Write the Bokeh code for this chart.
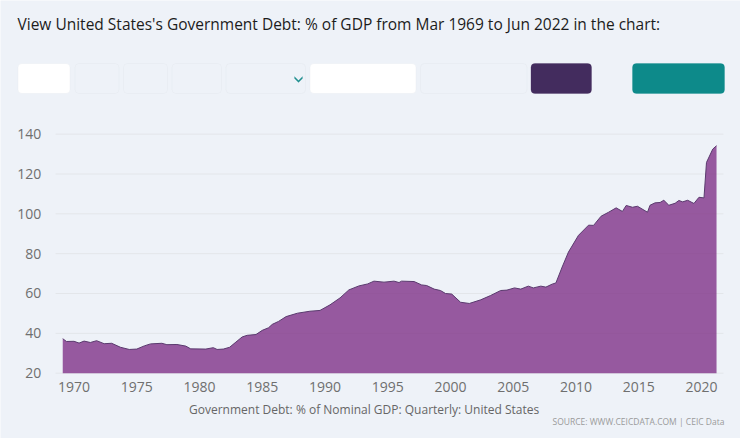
#!/usr/bin/env python3
from bokeh.embed import file_html
from bokeh.models import BoxAnnotation, FixedTicker, Label, Legend, LegendItem, PolyAnnotation, Range1d
from bokeh.plotting import figure
from bokeh.resources import INLINE

# values
years = [1969.1, 1969.4, 1970.0, 1970.4, 1970.8, 1971.3, 1971.8, 1972.4, 1973.0, 1973.7,
         1974.4, 1975.0, 1975.6, 1976.1, 1977.0, 1977.4, 1978.2, 1978.9, 1979.3, 1980.5,
         1981.1, 1981.4, 1981.9, 1982.4, 1982.9, 1983.4, 1983.8, 1984.5, 1985.0, 1985.5,
         1985.8, 1986.3, 1986.9, 1987.8, 1988.8, 1989.6, 1990.4, 1991.2, 1991.9, 1992.7,
         1993.4, 1993.9, 1994.7, 1995.5, 1995.9, 1996.1, 1997.1, 1997.7, 1998.1, 1998.7,
         1999.2, 1999.6, 2000.1, 2000.8, 2001.5, 2002.4, 2003.2, 2004.0, 2004.5, 2005.1,
         2005.6, 2006.2, 2006.6, 2007.2, 2007.6, 2008.1, 2008.4, 2008.9, 2009.4, 2010.2,
         2011.0, 2011.4, 2012.0, 2012.6, 2013.2, 2013.7, 2014.0, 2014.5, 2014.9, 2015.7,
         2015.9, 2016.3, 2016.7, 2017.0, 2017.4, 2017.9, 2018.2, 2018.5, 2018.9, 2019.4,
         2019.8, 2020.2, 2020.4, 2020.9, 2021.2]
debt = [37.3, 35.9, 36.0, 35.1, 36.1, 35.4, 36.3, 34.8, 35.0, 33.0,
        31.9, 32.1, 33.7, 34.7, 35.0, 34.3, 34.4, 33.6, 32.2, 32.1,
        32.8, 31.9, 32.1, 33.0, 35.6, 38.2, 39.0, 39.4, 41.5, 42.8,
        44.5, 46.0, 48.4, 50.1, 51.1, 51.5, 54.3, 57.8, 61.8, 63.8,
        64.8, 66.2, 65.7, 66.2, 65.5, 66.2, 66.0, 64.3, 64.0, 62.2,
        61.5, 60.0, 59.7, 55.6, 55.0, 56.8, 59.0, 61.5, 61.7, 62.8,
        62.2, 63.7, 62.8, 63.7, 63.2, 64.7, 65.3, 73.3, 80.8, 89.2,
        94.3, 94.2, 98.8, 100.8, 103.0, 101.2, 104.2, 103.3, 103.8, 100.8,
        104.3, 105.5, 105.7, 106.8, 104.3, 105.3, 106.7, 106.0, 106.8, 105.2,
        108.3, 108.0, 125.8, 132.5, 134.2]
x_ticks = [1970, 1975, 1980, 1985, 1990, 1995, 2000, 2005, 2010, 2015, 2020]
y_ticks = [20, 40, 60, 80, 100, 120, 140]

title_text = "View United States's Government Debt: % of GDP from Mar 1969 to Jun 2022 in the chart:"
series_name = "Government Debt: % of Nominal GDP: Quarterly: United States"
source_text = "SOURCE: WWW.CEICDATA.COM | CEIC Data"

BG = "#eef2f8"
FONT = "Open Sans"

# the frame fills the whole canvas so the controls above the chart are not clipped
p = figure(width=740, height=438, output_backend="svg", toolbar_location=None,
           x_range=Range1d(1964.14, 2023.11), y_range=Range1d(-12.8, 207.1),
           min_border=0, background_fill_color=BG, border_fill_color=BG, outline_line_color=None)

p.xaxis.ticker = FixedTicker(ticks=x_ticks)
p.yaxis.ticker = FixedTicker(ticks=y_ticks)
p.xaxis.fixed_location = 20
p.yaxis.fixed_location = 1968.5
for ax in (p.xaxis[0], p.yaxis[0]):
    ax.axis_line_color = None
    ax.major_tick_line_color = None
    ax.minor_tick_line_color = None
    ax.major_label_text_color = "#6f6f6f"
    ax.major_label_text_font = FONT
    ax.major_label_text_font_size = "14px"
p.xaxis.major_label_standoff = 3
p.yaxis.major_label_standoff = 8

p.xgrid.visible = False
p.ygrid.visible = False
p.segment(x0=[1968.53] * len(y_ticks), x1=[2021.75] * len(y_ticks), y0=y_ticks, y1=y_ticks,
          line_color="#e3e6ea", line_width=1)

p.varea(x=years, y1=[20] * len(years), y2=debt, fill_color="#7d2e85", fill_alpha=0.78)
p.line(years, debt, line_color="#5a3a6e", line_width=1)

swatch = p.varea(x=[], y1=[], y2=[], fill_color="#7d2e85")
legend = Legend(items=[LegendItem(label=series_name, renderers=[swatch])],
                location=(172, 20), orientation="horizontal", padding=0, margin=0,
                glyph_width=15, glyph_height=9, label_standoff=2,
                background_fill_alpha=0, border_line_color=None,
                label_text_font=FONT, label_text_font_size="12px", label_text_color="#666666")
p.add_layout(legend, "center")


def text(s, x, y, size, color, style="normal", align="left"):
    p.add_layout(Label(x=x, y=y, x_units="canvas", y_units="canvas", text=s,
                       text_font=FONT, text_font_size=size, text_color=color, text_font_style=style,
                       text_align=align, text_baseline="middle"))


def button(s, left, right, fill, border, color, style="normal"):
    p.add_layout(BoxAnnotation(left=left, right=right, top=63, bottom=93,
                               left_units="canvas", right_units="canvas",
                               top_units="canvas", bottom_units="canvas",
                               fill_color=fill, fill_alpha=1, line_color=border, line_width=1,
                               border_radius=4, level="overlay"))
    if s:
        text(s, (left + right) / 2, 79, "11px", color, style, "center")


text(title_text, 17, 23, "15.5px", "#1c1c1c", "normal")

button("max", 17.5, 69.5, "#ffffff", "#e2e6ec", "#777777")
button("1y", 74.5, 118.5, BG, "#dde2e9", "#777777")
button("5y", 123, 167, BG, "#dde2e9", "#777777")
button("10y", 171.5, 221, BG, "#dde2e9", "#777777")
button("", 225.5, 305, BG, "#dde2e9", "#777777")
text("area", 237, 79, "11px", "#2e8b8b")
button("September 1, 2019", 309.5, 415.5, "#ffffff", "#e2e6ec", "#777777")
button("June 1, 2022", 420, 526.5, BG, "#dde2e9", "#777777")
button("Apply", 530.5, 591, "#432c5e", "#432c5e", "#ffffff", "bold")
button("Get this data", 632, 724, "#0d8a8a", "#0d8a8a", "#ffffff", "bold")

# chevron of the select box
p.add_layout(PolyAnnotation(xs=[294, 298, 302, 302, 298, 294],
                            ys=[76, 80, 76, 78, 82, 78],
                            xs_units="canvas", ys_units="canvas", fill_color="#1f8f8f", fill_alpha=1,
                            line_color="#1f8f8f", line_width=0.5, level="overlay"))

text(source_text, 724, 421, "8.5px", "#9a9a9a", "normal", "right")

open("out.html", "w").write(file_html(p, INLINE))
